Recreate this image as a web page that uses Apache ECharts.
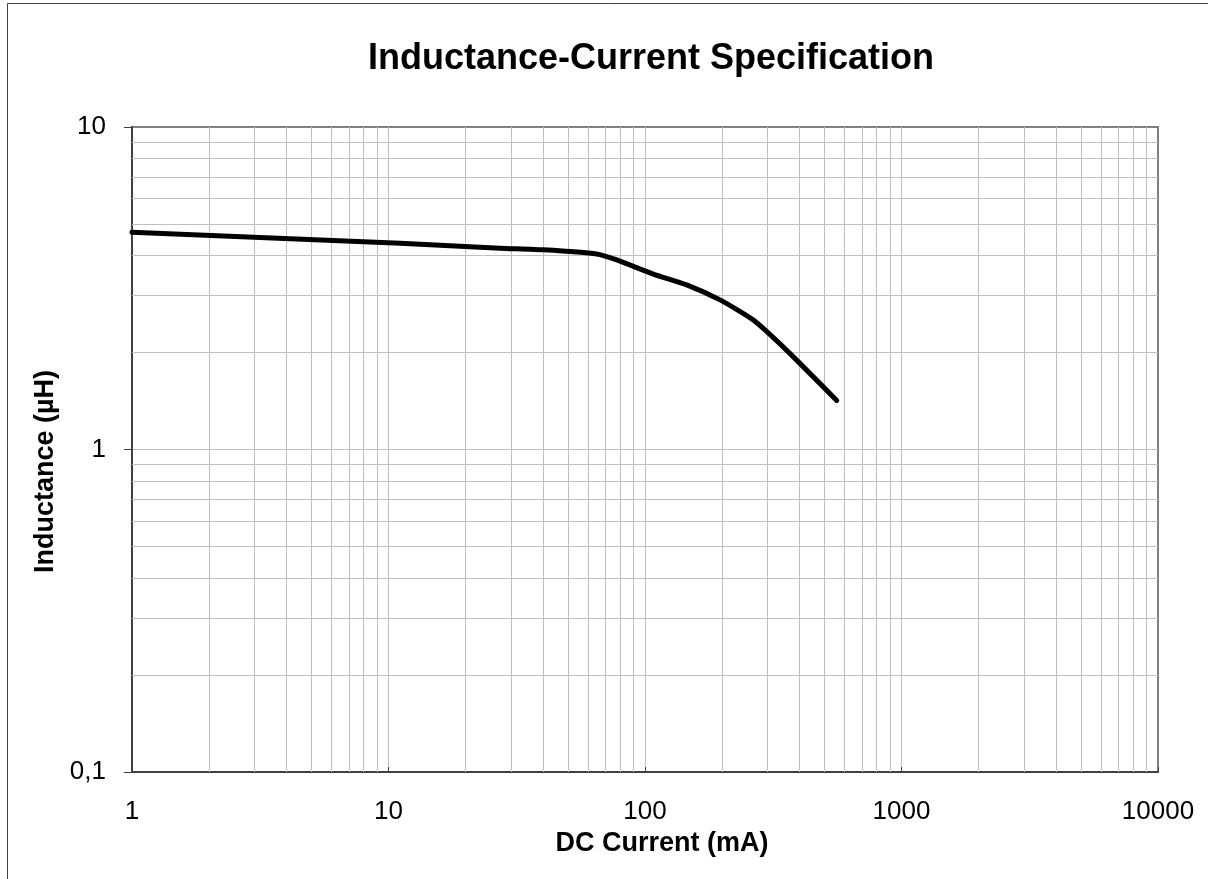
<!DOCTYPE html>
<html>
<head>
<meta charset="utf-8">
<script src="https://cdn.jsdelivr.net/npm/echarts@6/dist/echarts.min.js"></script>
<style>
html,body{margin:0;padding:0;background:#fff;}
#chart{width:1208px;height:879px;}
</style>
</head>
<body>
<div id="chart"></div>
<script>
// Data
var currentMA = [1, 11.1, 27.2, 40.1, 64.8, 77.6, 107.8, 145.4, 196.1, 264.4, 356.8, 559];
var inductanceUH = [4.72, 4.36, 4.21, 4.16, 4.04, 3.87, 3.50, 3.24, 2.91, 2.52, 2.03, 1.42];

// Axis ticks
var xMajorTicks = [1, 10, 100, 1000, 10000];
var yMajorTicks = [0.1, 1, 10];
var xDecades = [1, 10, 100, 1000];
var yDecades = [0.1, 1];
var minorMultipliers = [2, 3, 4, 5, 6, 7, 8, 9];

var FONT = 'Liberation Sans, Arial, sans-serif';

function minorValues(decades) {
  var out = [];
  decades.forEach(function (d) {
    minorMultipliers.forEach(function (m) {
      out.push(+(d * m).toPrecision(6));
    });
  });
  return out;
}

var minorLines = [];
minorValues(xDecades).forEach(function (v) { minorLines.push({ xAxis: v }); });
minorValues(yDecades).forEach(function (v) { minorLines.push({ yAxis: v }); });

var chart = echarts.init(document.getElementById('chart'));
chart.setOption({
  animation: false,
  backgroundColor: '#fff',
  title: {
    text: 'Inductance-Current Specification',
    left: 646,
    textAlign: 'center',
    top: 35,
    textStyle: { fontFamily: FONT, fontSize: 36, fontWeight: 'bold', color: '#000', lineHeight: 38 }
  },
  graphic: [{
    type: 'rect',
    shape: { x: 7.5, y: 3.5, width: 1400, height: 1000 },
    style: { fill: 'none', stroke: '#404040', lineWidth: 1 },
    silent: true,
    z: -10
  }],
  grid: {
    left: 132, top: 127, right: 50, bottom: 107,
    show: true,
    borderColor: '#808080',
    borderWidth: 2,
    backgroundColor: 'transparent'
  },
  xAxis: {
    type: 'log',
    logBase: 10,
    min: 1,
    max: 10000,
    name: 'DC Current (mA)',
    nameLocation: 'middle',
    nameGap: 49,
    nameTextStyle: { fontFamily: FONT, fontSize: 27, fontWeight: 'bold', color: '#000', padding: [0, 0, 0, 34] },
    axisLine: { show: true, lineStyle: { color: '#404040', width: 2 } },
    axisTick: { show: true, inside: true, length: 5, lineStyle: { color: '#404040', width: 1 } },
    axisLabel: { fontFamily: FONT, fontSize: 26, color: '#000', margin: 27,
      formatter: function (v) { return String(v); } },
    splitLine: { show: true, showMaxLine: false, lineStyle: { color: '#c0c0c0', width: 1 } }
  },
  yAxis: {
    type: 'log',
    logBase: 10,
    min: 0.1,
    max: 10,
    name: 'Inductance (µH)',
    nameLocation: 'middle',
    nameGap: 70,
    nameRotate: 90,
    nameTextStyle: { fontFamily: FONT, fontSize: 27, fontWeight: 'bold', color: '#000', padding: [0, 44, 0, 0] },
    axisLine: { show: true, lineStyle: { color: '#404040', width: 2 } },
    axisTick: { show: true, inside: false, length: 8, lineStyle: { color: '#404040', width: 1 } },
    axisLabel: { fontFamily: FONT, fontSize: 26, color: '#000', margin: 26,
      formatter: function (v) { return String(v).replace('.', ','); } },
    splitLine: { show: true, showMaxLine: false, lineStyle: { color: '#c0c0c0', width: 1 } }
  },
  series: [{
    type: 'line',
    name: 'minor grid',
    data: [],
    silent: true,
    z: 1,
    markLine: {
      silent: true,
      symbol: ['none', 'none'],
      label: { show: false },
      emphasis: { disabled: true },
      lineStyle: { color: '#c0c0c0', width: 1, type: 'solid' },
      data: minorLines
    }
  }, {
    type: 'line',
    name: 'Inductance',
    z: 5,
    smooth: 0.2,
    showSymbol: false,
    symbol: 'none',
    lineStyle: { color: '#000', width: 5, cap: 'round', join: 'round' },
    data: currentMA.map(function (x, i) { return [x, inductanceUH[i]]; })
  }]
});
</script>
</body>
</html>
